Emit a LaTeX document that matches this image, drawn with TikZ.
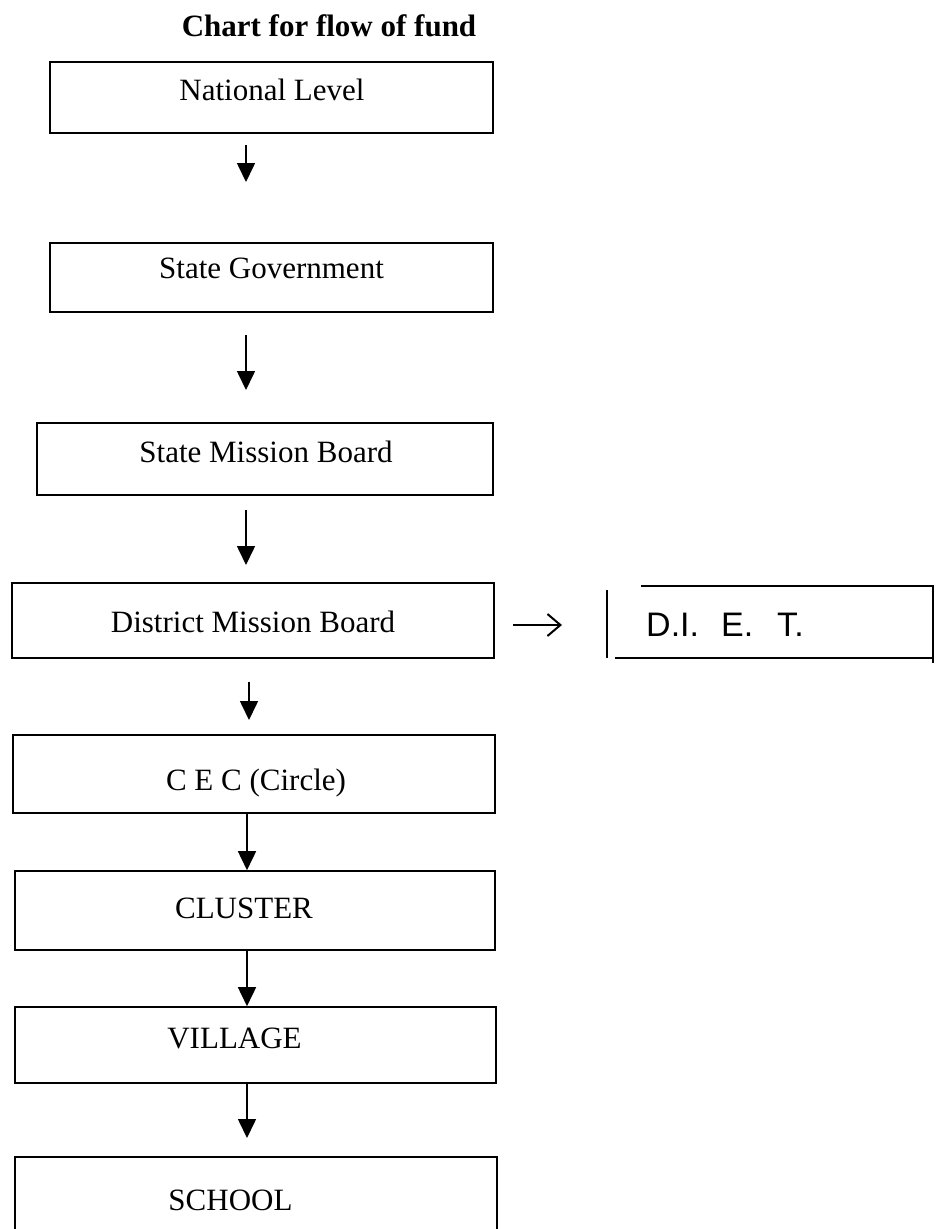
\documentclass[tikz,border=0pt]{standalone}
\usepackage{fontspec}
\setmainfont{Liberation Serif}
\newfontfamily\handfont{Liberation Sans}
\usetikzlibrary{arrows.meta}
\begin{document}
\begin{tikzpicture}[x=1pt,y=-1pt,
  box/.style={draw, line width=1.6pt, inner sep=0pt},
  lbl/.style={anchor=base, inner sep=0pt, font=\fontsize{31}{36}\selectfont},
  flow/.style={line width=1.6pt, -{Triangle[length=19pt,width=18pt]}},
  side/.style={line width=1.6pt},
]
\useasboundingbox (0,0) rectangle (945,1229);
\clip (0,0) rectangle (945,1229);

% title
\node[anchor=base, inner sep=0pt, font=\bfseries\fontsize{31}{36}\selectfont] (title) at (329,36) {Chart for flow of fund};

% boxes
\node[box, minimum width=443pt, minimum height=71pt] (nat) at (271.5,97.5) {};
\node[box, minimum width=443pt, minimum height=69pt] (sg)  at (271.5,277.5) {};
\node[box, minimum width=456pt, minimum height=72pt] (smb) at (265,459) {};
\node[box, minimum width=482pt, minimum height=75pt] (dmb) at (253,620.5) {};
\node[box, minimum width=482pt, minimum height=78pt] (cec) at (254,774) {};
\node[box, minimum width=480pt, minimum height=79pt] (clu) at (255,910.5) {};
\node[box, minimum width=481pt, minimum height=76pt] (vil) at (255.5,1045) {};
\node[box, minimum width=482pt, minimum height=103pt] (sch) at (256,1208.5) {};

% labels
\node[lbl] (natT) at (272,100)  {National Level};
\node[lbl] (sgT)  at (271.5,278) {State Government};
\node[lbl] (smbT) at (266,462)  {State Mission Board};
\node[lbl] (dmbT) at (253,632)  {District Mission Board};
\node[lbl] (cecT) at (256,790)  {C E C (Circle)};
\node[lbl] (cluT) at (244,918)  {CLUSTER};
\node[lbl] (vilT) at (234.5,1048) {VILLAGE};
\node[lbl] (schT) at (230.5,1210) {SCHOOL};

% D.I.E.T. box
\node[anchor=base west, inner sep=0pt, font=\handfont\fontsize{34}{38}\selectfont] (diet) at (646,636) {D.I.\hspace{22pt}E.\hspace{24pt}T.};
\draw[side] (607,590) -- (607,658);
\draw[side] (615,658) -- (933,658);
\draw[side] (641,586) -- (933,586);
\draw[side] (933,585) -- (933,663);

% arrow coordinates
\coordinate (ax) at (247,0);
\coordinate (a1s) at (246,145);  \coordinate (a1e) at (246,182);
\coordinate (a2s) at (246,335);  \coordinate (a2e) at (246,390);
\coordinate (a3s) at (246,510);  \coordinate (a3e) at (246,565);
\coordinate (a4s) at (249,682);  \coordinate (a4e) at (249,720);
\coordinate (a7e) at (247,1138);
\coordinate (r1s) at (513,625);  \coordinate (r1e) at (562,625);

\draw[flow] (a1s) -- (a1e);
\draw[flow] (a2s) -- (a2e);
\draw[flow] (a3s) -- (a3e);
\draw[flow] (a4s) -- (a4e);
\draw[flow] (cec.south -| ax) -- (clu.north -| ax);
\draw[flow] (clu.south -| ax) -- (vil.north -| ax);
\draw[flow] (vil.south -| ax) -- (a7e);
\draw[line width=2pt, -{Straight Barb[length=13pt,width=22pt]}] (r1s) -- (r1e);
\end{tikzpicture}
\end{document}
